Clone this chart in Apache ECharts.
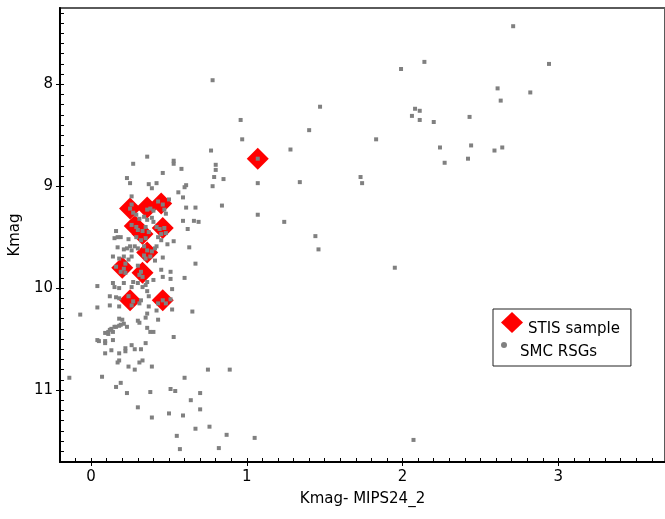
<!DOCTYPE html>
<html><head><meta charset="utf-8">
<script src="https://cdn.jsdelivr.net/npm/echarts@6/dist/echarts.min.js"></script>
<style>html,body{margin:0;padding:0;background:#fff}#c{width:665px;height:519px}</style>
</head><body><div id="c"></div>
<script>
// STIS sample (x = Kmag - MIPS24_2, y = Kmag)
const stisColor = [0.25,0.36,0.45,0.28,0.33,0.46,0.36,0.20,0.33,0.25,0.46,1.07];
const stisKmag  = [9.22,9.21,9.17,9.39,9.47,9.41,9.65,9.80,9.85,10.12,10.12,8.73];

// SMC RSGs
const rsgColor = [
 2.71,2.14,1.99,2.94,0.78,2.61,2.82,2.63,1.47,2.08,
 2.11,2.06,2.11,2.20,2.43,0.96,1.40,0.97,1.83,2.24,
 2.44,2.64,2.59,2.42,2.27,0.77,1.28,1.07,0.80,0.80,
 0.79,0.85,0.78,1.07,1.34,1.73,1.74,0.84,1.07,1.24,
 1.44,1.46,1.95,0.58,0.60,0.61,0.59,0.61,0.67,0.59,
 0.66,0.69,0.62,0.63,0.67,0.60,2.07,0.36,0.53,0.53,
 0.46,0.27,0.56,0.23,0.25,0.37,0.42,0.39,0.26,0.50,
 0.26,0.25,0.27,0.36,0.38,0.40,0.43,0.46,0.47,0.48,
 0.29,0.31,0.34,0.36,0.40,0.39,0.26,0.29,0.30,0.35,
 0.33,0.37,0.42,0.44,0.47,0.48,0.45,0.16,0.17,0.15,
 0.19,0.24,0.29,0.32,0.35,0.43,0.45,0.49,0.53,0.17,
 0.21,0.23,0.25,0.26,0.28,0.30,0.34,0.36,0.39,0.41,
 0.42,0.34,0.38,0.35,0.46,0.14,0.18,0.21,0.26,0.24,
 0.41,0.22,0.21,0.19,0.22,0.16,0.30,0.32,0.33,0.31,
 0.45,0.51,0.46,0.51,0.04,0.14,0.15,0.18,0.21,0.27,
 0.26,0.30,0.33,0.35,0.36,0.40,0.52,0.12,0.16,0.18,
 0.04,0.12,0.24,0.27,0.26,0.31,0.32,0.36,0.37,0.43,
 0.46,0.48,0.51,0.65,-0.07,0.18,0.37,0.42,0.52,0.43,
 0.36,0.35,0.30,0.31,0.18,0.20,0.23,0.09,0.11,0.12,
 0.13,0.15,0.16,0.18,0.19,0.21,0.11,0.14,0.36,0.38,
 0.40,0.53,0.04,0.05,0.09,0.09,0.14,0.35,0.26,0.28,
 0.32,0.22,0.22,0.09,0.13,0.18,0.31,0.33,0.18,0.17,
 0.24,0.28,0.39,0.75,0.89,-0.14,0.07,0.60,0.16,0.19,
 0.23,0.38,0.51,0.54,0.64,0.70,0.70,0.30,0.39,0.50,
 0.59,0.67,0.76,0.55,0.87,0.57,0.82,1.05
];
const rsgKmag = [
 7.43,7.78,7.85,7.80,7.96,8.04,8.08,8.16,8.22,8.24,
 8.26,8.31,8.35,8.37,8.32,8.35,8.45,8.54,8.54,8.62,
 8.60,8.62,8.65,8.73,8.77,8.65,8.64,8.73,8.79,8.84,
 8.91,8.93,9.00,8.97,8.96,8.91,8.97,9.19,9.28,9.35,
 9.49,9.62,9.80,8.83,9.01,8.99,9.11,9.21,9.21,9.34,
 9.34,9.35,9.42,9.60,9.76,9.90,11.49,8.71,8.75,8.78,
 8.87,8.78,9.06,8.92,8.97,8.98,8.97,9.02,9.10,9.13,
 9.18,9.22,9.26,9.23,9.22,9.24,9.15,9.18,9.23,9.27,
 9.28,9.32,9.30,9.33,9.35,9.31,9.38,9.40,9.43,9.40,
 9.44,9.45,9.40,9.42,9.41,9.46,9.47,9.44,9.50,9.51,
 9.50,9.52,9.50,9.53,9.51,9.50,9.53,9.57,9.54,9.60,
 9.62,9.61,9.59,9.63,9.59,9.61,9.59,9.63,9.64,9.61,
 9.59,9.68,9.69,9.71,9.70,9.69,9.71,9.69,9.69,9.72,
 9.73,9.76,9.81,9.84,9.85,9.79,9.78,9.84,9.89,9.87,
 9.82,9.84,9.89,9.91,9.98,9.95,9.99,10.00,9.95,9.94,
 9.99,9.95,9.99,9.97,9.94,9.92,10.01,10.08,10.09,10.10,
 10.19,10.17,10.08,10.13,10.17,10.15,10.12,10.03,10.08,10.15,
 10.12,10.15,10.11,10.23,10.26,10.18,10.18,10.22,10.21,10.31,
 10.25,10.29,10.32,10.34,10.30,10.31,10.38,10.44,10.43,10.41,
 10.40,10.38,10.38,10.37,10.36,10.35,10.45,10.43,10.39,10.43,
 10.43,10.48,10.51,10.52,10.52,10.54,10.51,10.54,10.56,10.60,
 10.60,10.59,10.62,10.64,10.61,10.64,10.73,10.71,10.71,10.73,
 10.77,10.80,10.77,10.80,10.80,10.88,10.87,10.88,10.97,10.93,
 11.03,11.02,10.99,11.01,11.10,11.03,11.19,11.17,11.27,11.23,
 11.25,11.38,11.36,11.45,11.44,11.58,11.57,11.47
];

const xTickValues = [0, 1, 2, 3];
const yTickValues = [8, 9, 10, 11];
const xRange = [-0.2, 3.685];
const yRange = [7.2512, 11.7066];
const minorStep = 0.1;

function minorTicks(a, b) {
  const out = [];
  for (let i = Math.ceil(a / minorStep - 1e-9); i <= Math.floor(b / minorStep + 1e-9); i++) {
    out.push(Math.round(i * minorStep * 1000) / 1000);
  }
  return out;
}
const zip = (xs, ys) => xs.map((x, i) => [x, ys[i]]);

const FONT = 'DejaVu Sans';
const chart = echarts.init(document.getElementById('c'), null, {renderer: 'canvas'});

const commonAxis = {splitLine: {show: false}};

chart.setOption({
  animation: false,
  backgroundColor: '#fff',
  grid: [{
    left: 58, top: 8, right: -3, bottom: 57,
    show: true, borderColor: '#5a5a5a', borderWidth: 2, backgroundColor: 'transparent'
  }],
  xAxis: [{
    ...commonAxis, type: 'value', gridIndex: 0, position: 'bottom',
    min: xRange[0], max: xRange[1],
    name: 'Kmag- MIPS24_2', nameLocation: 'middle', nameGap: 30,
    nameTextStyle: {fontFamily: FONT, fontSize: 15, color: '#000'},
    axisLine: {show: true, onZero: false, lineStyle: {color: '#000', width: 2}},
    axisTick: {show: true, inside: false, length: 4, customValues: xTickValues, lineStyle: {color: '#000', width: 1}},
    axisLabel: {show: true, customValues: xTickValues, margin: 8, fontFamily: FONT, fontSize: 15, color: '#000'}
  }, {
    ...commonAxis, type: 'value', gridIndex: 0, position: 'bottom',
    min: xRange[0], max: xRange[1],
    axisLine: {show: false, onZero: false},
    axisTick: {show: true, inside: true, length: 4, customValues: minorTicks(xRange[0] + 0.05, xRange[1]), lineStyle: {color: '#000', width: 1}},
    axisLabel: {show: false}
  }],
  yAxis: [{
    ...commonAxis, type: 'value', gridIndex: 0, position: 'left', inverse: true,
    min: yRange[0], max: yRange[1],
    name: 'Kmag', nameLocation: 'middle', nameGap: 34,
    nameTextStyle: {fontFamily: FONT, fontSize: 15, color: '#000'},
    axisLine: {show: true, onZero: false, lineStyle: {color: '#000', width: 2}},
    axisTick: {show: true, inside: false, length: 4, customValues: yTickValues, lineStyle: {color: '#000', width: 1}},
    axisLabel: {show: true, customValues: yTickValues, margin: 7, fontFamily: FONT, fontSize: 15, color: '#000'}
  }, {
    ...commonAxis, type: 'value', gridIndex: 0, position: 'left', inverse: true,
    min: yRange[0], max: yRange[1],
    axisLine: {show: false, onZero: false},
    axisTick: {show: true, inside: true, length: 4, customValues: minorTicks(yRange[0], yRange[1] - 0.02), lineStyle: {color: '#000', width: 1}},
    axisLabel: {show: false}
  }],
  legend: [{
    data: [{name: 'STIS sample', icon: 'diamond'}],
    orient: 'vertical', left: 493, top: 309, selectedMode: false,
    itemWidth: 22, itemHeight: 21, padding: [3, 11, 29, 8],
    borderColor: '#222', borderWidth: 1, backgroundColor: '#fff',
    formatter: '{t|{name}}',
    textStyle: {fontFamily: FONT, fontSize: 15, color: '#000',
      rich: {t: {fontFamily: FONT, fontSize: 15, color: '#000', padding: [14, 0, 0, 0]}}}
  }, {
    data: [{name: 'SMC RSGs', icon: 'circle'}],
    orient: 'vertical', left: 501, top: 342, selectedMode: false,
    itemWidth: 22, itemHeight: 6, padding: 0,
    formatter: '{t|{name}}',
    textStyle: {fontFamily: FONT, fontSize: 15, color: '#000',
      rich: {t: {fontFamily: FONT, fontSize: 15, color: '#000', padding: [15, 0, 0, 0]}}}
  }],
  series: [{
    name: 'STIS sample', type: 'scatter', xAxisIndex: 0, yAxisIndex: 0,
    symbol: 'diamond', symbolSize: 22, z: 2, silent: true,
    itemStyle: {color: '#f00', opacity: 1},
    data: zip(stisColor, stisKmag)
  }, {
    name: 'SMC RSGs', type: 'scatter', xAxisIndex: 0, yAxisIndex: 0,
    symbol: 'rect', symbolSize: 4, z: 3, silent: true,
    itemStyle: {color: '#808080', opacity: 1},
    data: zip(rsgColor, rsgKmag)
  }]
});
</script>
</body></html>
